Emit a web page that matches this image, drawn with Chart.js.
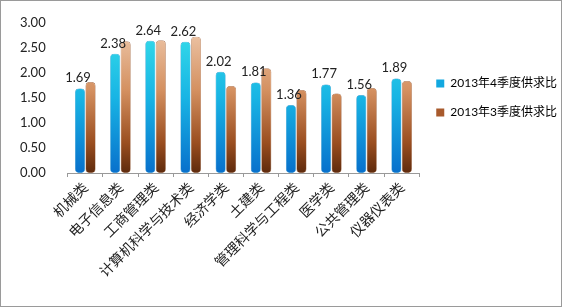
<!DOCTYPE html>
<html>
<head>
<meta charset="utf-8">
<script src="https://cdn.jsdelivr.net/npm/chart.js@4.4.0/dist/chart.umd.min.js"></script>
<style>
  html, body { margin: 0; padding: 0; background: #fff; }
  #wrap { width: 562px; height: 307px; box-sizing: border-box; border: 1px solid #9a9a9a; position: relative; }
  canvas { display: block; }
</style>
</head>
<body>
<div id="wrap"><canvas id="chart"></canvas></div>
<script>
const categories = ['机械类', '电子信息类', '工商管理类', '计算机科学与技术类', '经济学类', '土建类', '管理科学与工程类', '医学类', '公共管理类', '仪器仪表类'];
const q4Values = [1.69, 2.38, 2.64, 2.62, 2.02, 1.81, 1.36, 1.77, 1.56, 1.89];
const q3Values = [1.82, 2.63, 2.65, 2.72, 1.74, 2.09, 1.66, 1.59, 1.70, 1.84];
const seriesNames = ['2013年4季度供求比', '2013年3季度供求比'];
const yTicks = [0, 0.5, 1, 1.5, 2, 2.5, 3];

const latin = "Lato, 'Noto Sans CJK SC', sans-serif";

function blueFill(ctx) {
  const area = ctx.chart.chartArea;
  if (!area) return '#1aa8e0';
  const g = ctx.chart.ctx.createLinearGradient(0, area.top, 0, area.bottom);
  g.addColorStop(0, '#38e0ea');
  g.addColorStop(0.5, '#18b4e4');
  g.addColorStop(1, '#0870cc');
  return g;
}

function brownFill(ctx) {
  const area = ctx.chart.chartArea;
  if (!area) return '#b06a3c';
  const g = ctx.chart.ctx.createLinearGradient(0, area.top, 0, area.bottom);
  g.addColorStop(0, '#f0ccb0');
  g.addColorStop(0.45, '#d49060');
  g.addColorStop(0.8, '#9a4e20');
  g.addColorStop(1, '#5e2a0c');
  return g;
}

// numbers above the 4th-quarter bars
const valueLabels = {
  id: 'valueLabels',
  afterDatasetsDraw(chart) {
    const c = chart.ctx;
    const meta = chart.getDatasetMeta(0);
    c.save();
    c.font = '13px ' + latin;
    c.fillStyle = '#222';
    c.textAlign = 'center';
    c.textBaseline = 'bottom';
    meta.data.forEach((bar, i) => {
      c.fillText(q4Values[i].toFixed(2), bar.x - 2, bar.y - 4);
    });
    c.restore();
  }
};

new Chart(document.getElementById('chart'), {
  type: 'bar',
  data: {
    labels: categories,
    datasets: [
      { label: seriesNames[0], data: q4Values, backgroundColor: blueFill, borderColor: '#0b84c4', borderWidth: 0.5, borderRadius: 4, borderSkipped: false, categoryPercentage: 0.6, barPercentage: 0.95 },
      { label: seriesNames[1], data: q3Values, backgroundColor: brownFill, borderColor: '#8a4a24', borderWidth: 0.5, borderRadius: 4, borderSkipped: false, categoryPercentage: 0.6, barPercentage: 0.95 }
    ]
  },
  options: {
    responsive: true,
    maintainAspectRatio: false,
    animation: false,
    layout: { padding: { top: 7, left: 5, right: 4, bottom: 24 } },
    plugins: {
      tooltip: { enabled: false },
      legend: {
        position: 'right',
        fullSize: false,
        labels: {
          boxWidth: 8,
          boxHeight: 8,
          padding: 17,
          color: '#222',
          font: { size: 12, family: latin },
          generateLabels(chart) {
            const fills = ['#12a8e0', '#a85a2c'];
            return seriesNames.map((n, i) => ({ text: n, fillStyle: fills[i], strokeStyle: fills[i], lineWidth: 0, datasetIndex: i }));
          }
        }
      }
    },
    scales: {
      x: {
        grid: { display: true, drawOnChartArea: false, tickLength: 4, color: '#999', offset: true },
        border: { color: '#999' },
        ticks: {
          maxRotation: 45,
          minRotation: 45,
          autoSkip: false,
          color: '#222',
          padding: 2,
          font: { size: 14, family: "'Noto Sans CJK SC', sans-serif" }
        }
      },
      y: {
        min: 0,
        max: 3,
        afterBuildTicks(axis) { axis.ticks = yTicks.map(v => ({ value: v })); },
        grid: { display: false },
        border: { display: false },
        ticks: {
          padding: 14,
          color: '#222',
          font: { size: 13, family: latin },
          callback: v => Number(v).toFixed(2)
        }
      }
    }
  },
  plugins: [valueLabels]
});
</script>
</body>
</html>
